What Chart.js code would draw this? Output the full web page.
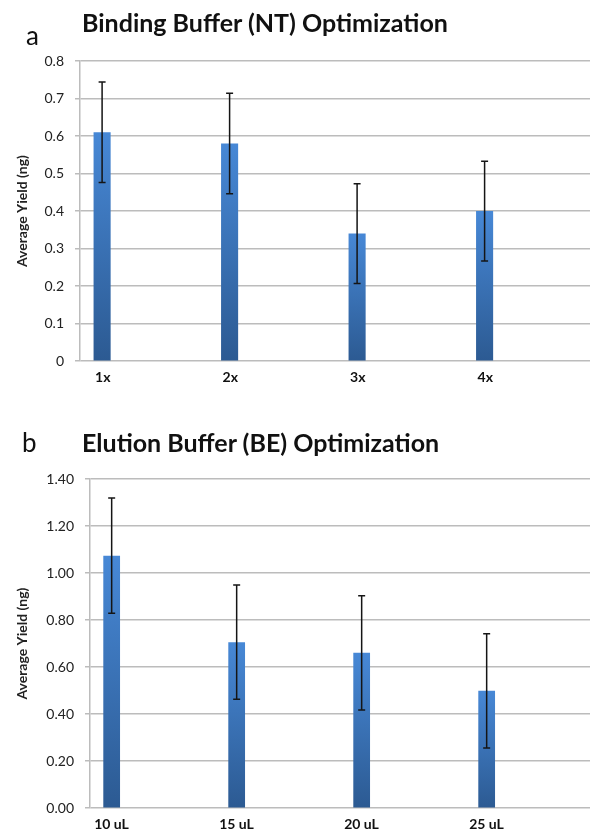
<!DOCTYPE html>
<html>
<head>
<meta charset="utf-8">
<script src="https://cdn.jsdelivr.net/npm/chart.js@4.4.1/dist/chart.umd.min.js"></script>
<style>
  html, body { margin: 0; padding: 0; background: #fff; }
  #page { position: relative; width: 591px; height: 830px; overflow: hidden; font-family: Lato, "Open Sans", sans-serif; color: #111; }
  .panel { position: absolute; left: 0; width: 591px; }
  .letter { position: absolute; font-size: 26px; line-height: 1.2; }
  .title { position: absolute; font-size: 25px; line-height: 1.2; font-weight: bold; white-space: nowrap; }
</style>
</head>
<body>
<div id="page">
  <div class="panel" style="top:0;height:400px"><canvas id="chartA" width="591" height="400"></canvas></div>
  <div class="panel" style="top:400px;height:441px"><canvas id="chartB" width="591" height="441"></canvas></div>
  <div class="letter" style="left:26px;top:20px">a</div>
  <div class="title" style="left:82px;top:7px">Binding Buffer (NT) Optimization</div>
  <div class="letter" style="left:22px;top:427px">b</div>
  <div class="title" style="left:82px;top:427px">Elution Buffer (BE) Optimization</div>
</div>
<script>
// panel a - binding buffer
const labelsA = ["1x", "2x", "3x", "4x"];
const yieldA = [0.61, 0.58, 0.34, 0.40];
const errA = [0.134, 0.134, 0.133, 0.133];
const ticksA = ["0", "0.1", "0.2", "0.3", "0.4", "0.5", "0.6", "0.7", "0.8"];

// panel b - elution buffer
const labelsB = ["10 uL", "15 uL", "20 uL", "25 uL"];
const yieldB = [1.074, 0.706, 0.661, 0.499];
const errB = [0.245, 0.243, 0.243, 0.243];
const ticksB = ["0.00", "0.20", "0.40", "0.60", "0.80", "1.00", "1.20", "1.40"];

const FONT = "Lato, 'Open Sans', sans-serif";
const GRID = "#bcbcbc";

// black error bars with small caps
const errorBars = {
  id: "errorBars",
  afterDatasetsDraw(chart, args, opts) {
    const meta = chart.getDatasetMeta(0);
    const y = chart.scales.y;
    const vals = chart.data.datasets[0].data;
    const ctx = chart.ctx;
    ctx.save();
    ctx.strokeStyle = "#151515";
    ctx.lineWidth = 1.5;
    meta.data.forEach((bar, i) => {
      const top = y.getPixelForValue(vals[i] + opts.errors[i]);
      const bot = y.getPixelForValue(vals[i] - opts.errors[i]);
      ctx.beginPath();
      ctx.moveTo(bar.x, top);
      ctx.lineTo(bar.x, bot);
      ctx.moveTo(bar.x - 3.5, top);
      ctx.lineTo(bar.x + 3.5, top);
      ctx.moveTo(bar.x - 3.5, bot);
      ctx.lineTo(bar.x + 3.5, bot);
      ctx.stroke();
    });
    ctx.restore();
  },
};

function barFill(c) {
  const chart = c.chart;
  if (!chart.chartArea || c.raw == null) return "#3a72bb";
  const y = chart.scales.y;
  const g = chart.ctx.createLinearGradient(0, y.getPixelForValue(c.raw), 0, y.getPixelForValue(0));
  g.addColorStop(0, "#4788d6");
  g.addColorStop(1, "#2c5a92");
  return g;
}

function makeChart(id, labels, values, errors, ticks, max, step, axisWidth, padTop, padBottom) {
  const empty = labels.map(() => null);
  const common = { barPercentage: 0.41, categoryPercentage: 0.98 };
  return new Chart(document.getElementById(id), {
    type: "bar",
    data: {
      labels: labels,
      datasets: [
        { data: values, backgroundColor: barFill, ...common },
        { data: empty, ...common },
        { data: empty, ...common },
      ],
    },
    options: {
      responsive: false,
      animation: false,
      layout: { padding: { top: padTop, right: 1, bottom: padBottom, left: 0 } },
      plugins: {
        legend: { display: false },
        tooltip: { enabled: false },
        errorBars: { errors: errors },
      },
      scales: {
        x: {
          grid: { display: false, drawTicks: false },
          border: { display: false },
          ticks: {
            font: { family: FONT, size: 14, weight: "bold" },
            color: "#111",
            labelOffset: -41,
            padding: 8,
            maxRotation: 0,
            autoSkip: false,
          },
        },
        y: {
          min: 0,
          max: max,
          afterFit: (scale) => { scale.width = axisWidth; },
          grid: { color: GRID, lineWidth: 1.5, tickLength: 5 },
          border: { color: GRID, width: 1.5 },
          ticks: {
            stepSize: step,
            padding: 11,
            font: { family: FONT, size: 14 },
            color: "#222",
            callback: (v, i) => ticks[i],
          },
          title: {
            display: true,
            text: "Average Yield (ng)",
            font: { family: FONT, size: 14, weight: "bold" },
            color: "#222",
            padding: { top: 14, bottom: 0 },
          },
        },
      },
    },
    plugins: [errorBars],
  });
}

makeChart("chartA", labelsA, yieldA, errA, ticksA, 0.8, 0.1, 80, 61, 6);
makeChart("chartB", labelsB, yieldB, errB, ticksB, 1.4, 0.2, 90, 79, 0);
</script>
</body>
</html>
